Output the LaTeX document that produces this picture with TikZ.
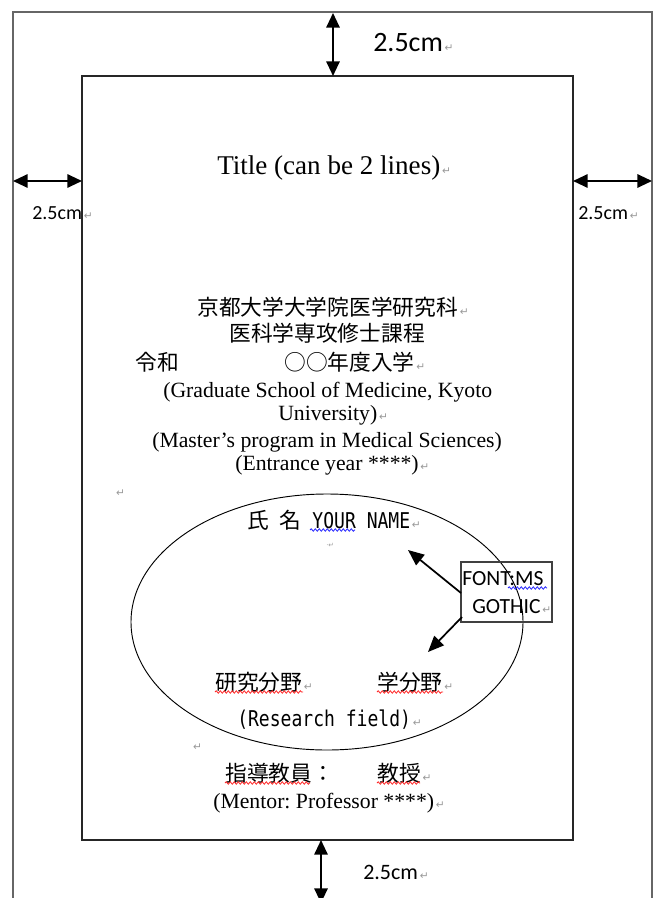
\documentclass[tikz,border=0pt]{standalone}
\usepackage{fontspec}
\usetikzlibrary{arrows.meta,decorations.pathmorphing}
\setmainfont{Liberation Serif}
\newfontfamily\calfont{Carlito}
\newfontfamily\jpfont{Noto Sans CJK JP}
\newfontfamily\gmono[FakeStretch=0.83]{DejaVu Sans Mono}
\newfontfamily\symfont{DejaVu Sans}
\newcommand{\pmark}{{\symfont\fontsize{8}{8}\selectfont\color{black!40}\,↵}}
\newcommand{\jp}{\jpfont\fontsize{16.3}{19}\selectfont}
\newcommand{\en}{\rmfamily\fontsize{16.3}{19}\selectfont}
\newcommand{\gm}{\gmono\fontsize{16.3}{19}\selectfont}
\frenchspacing
\begin{document}
\begin{tikzpicture}[x=0.75pt,y=-0.75pt,
  txt/.style={inner sep=0pt,anchor=west,execute at begin node=\frenchspacing},
  outerline/.style={draw=black!60,line width=1.1pt},
  innerline/.style={draw=black!85,line width=0.8pt},
  dimarrow/.style={line width=1.5pt,{Triangle[length=11pt,width=10pt]}-{Triangle[length=11pt,width=10pt]}},
  fontarrow/.style={line width=1.3pt,-{Triangle[length=12pt,width=10pt]}},
  wavyblue/.style={draw=blue!85,line width=0.6pt,decorate,decoration={snake,amplitude=0.9pt,segment length=3pt}},
  wavyred/.style={draw=red!85,line width=0.6pt,decorate,decoration={snake,amplitude=0.9pt,segment length=3pt}}]
\useasboundingbox (0,0) rectangle (658,898);
\clip (0,0) rectangle (658,898);
\fill[white] (0,0) rectangle (658,898);

% page outlines
\draw[outerline] (13,910) -- (13,12) -- (652,12) -- (652,910);
\coordinate (iTL) at (82,76);
\coordinate (iBR) at (573,840);
\draw[innerline] (iTL) rectangle (iBR);

% margin arrows
\coordinate (tA) at (333,13); \coordinate (tB) at (333,76);
\coordinate (bA) at (321,840); \coordinate (bB) at (321,903);
\coordinate (lA) at (13,181); \coordinate (lB) at (82,181);
\coordinate (rA) at (573,181); \coordinate (rB) at (652,181);
\draw[dimarrow] (tA) -- (tB);
\draw[dimarrow] (bA) -- (bB);
\draw[dimarrow] (lA) -- (lB);
\draw[dimarrow] (rA) -- (rB);
\node[txt] (ltop) at (373,43) {\calfont\fontsize{21}{24}\selectfont 2.5cm\pmark};
\node[txt] (lbot) at (363,872) {\calfont\fontsize{16.5}{19}\selectfont 2.5cm\pmark};
\node[txt] (lleft) at (32,213) {\calfont\fontsize{15}{18}\selectfont 2.5cm\pmark};
\node[txt] (lright) at (578,213) {\calfont\fontsize{15}{18}\selectfont 2.5cm\pmark};

% title
\node[txt] (title) at (217,168) {\rmfamily\fontsize{20.3}{24}\selectfont Title (can be 2 lines)\pmark};

% affiliation
\node[txt] (j1) at (197,307) {\jp 京都大学大学院医学研究科\pmark};
\node[txt] (j2) at (229,333) {\jp 医科学専攻修士課程};
\node[txt] (j3a) at (135,362) {\jp 令和};
\node[txt] (j3b) at (284,362) {\jp ○○年度入学\pmark};
\node[txt] (e1) at (163,392) {\en (Graduate School of Medicine, Kyoto};
\node[txt] (e2) at (278,415) {\en University)\pmark};
\node[txt] (e3) at (152,442) {\en (Master’s program in Medical Sciences)};
\node[txt] (e4) at (235,465) {\en (Entrance year ****)\pmark};
\node[txt] (pm1) at (114,493) {\pmark};

% ellipse
\draw[line width=0.7pt] (327,622) ellipse [x radius=196, y radius=128];
\node[txt] (name) at (247,520) {{\jp 氏}{\gm\ }{\jp 名}{\gm\ YOUR NAME}\pmark};
\draw[wavyblue] (310,530) -- (355,530);
\node[txt] (pm2) at (326,545) {{\symfont\fontsize{5}{5}\selectfont\color{black!40}·↵}};

% font box
\coordinate (bTL) at (461,562);
\coordinate (bBR) at (552,622);
\draw[draw=black!75,line width=0.9pt] (bTL) rectangle (bBR);
\node[txt] (f1) at (462,579) {\calfont\fontsize{16.2}{19}\selectfont FONT:MS};
\node[txt] (f2) at (472,607) {\calfont\fontsize{16.2}{19}\selectfont GOTHIC\pmark};
\draw[wavyblue] (508,588) -- (547,588);
\coordinate (a1s) at (461,593); \coordinate (a1e) at (408,550);
\coordinate (a2s) at (462,617); \coordinate (a2e) at (428,652);
\draw[fontarrow] (a1s) -- (a1e);
\draw[fontarrow] (a2s) -- (a2e);

% research field
\node[txt] (rf1) at (215,682) {\jp 研究分野\pmark};
\node[txt] (rf2) at (377,682) {\jp 学分野\pmark};
\draw[wavyred] (215,692) -- (303,692);
\draw[wavyred] (377,692) -- (443,692);
\node[txt] (rf3) at (237,720) {\gm (Research field)\pmark};
\node[txt] (pm3) at (191,747) {\pmark};

% mentor
\node[txt] (m1) at (225,773) {\jp 指導教員：};
\node[txt] (m2) at (377,773) {\jp 教授\pmark};
\draw[wavyred] (225,783) -- (310,783);
\draw[wavyred] (377,783) -- (420,783);
\node[txt] (m3) at (213,803) {\en (Mentor: Professor ****)\pmark};
\end{tikzpicture}
\end{document}
